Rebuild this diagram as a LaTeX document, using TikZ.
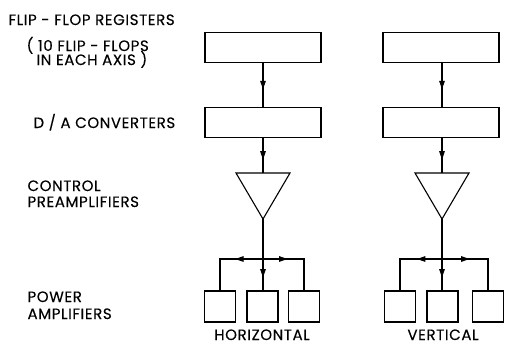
\documentclass[tikz,border=0pt]{standalone}
\usepackage{fontspec}
\setmainfont[LetterSpace=4,FakeBold=0.2]{Poppins}
\usetikzlibrary{arrows.meta,calc}
\begin{document}
\begin{tikzpicture}[x=1pt,y=-1pt,
  line width=1.1pt,
  blk/.style={draw, minimum width=116pt, minimum height=30pt, inner sep=0pt},
  pa/.style={draw, minimum width=31pt, minimum height=31pt, inner sep=0pt},
  lbl/.style={anchor=base west, inner sep=0pt, font=\fontsize{15}{17}\selectfont},
  coltitle/.style={anchor=base, inner sep=0pt, font=\fontsize{15}{17}\selectfont},
  headarrow/.style={-{Triangle[length=8.5pt,width=5.5pt]}},
]
\useasboundingbox (0,0) rectangle (505,348);

% left labels
\node[lbl] (l1) at (8,25) {FLIP - FLOP REGISTERS};
\node[lbl] (l2) at (26,51) {( 10 FLIP - FLOPS};
\node[lbl] (l3) at (36,65) {IN EACH AXIS )};
\node[lbl] (l4) at (33,128) {D / A CONVERTERS};
\node[lbl] (l5) at (27,191) {CONTROL};
\node[lbl] (l6) at (27,207) {PREAMPLIFIERS};
\node[lbl] (l7) at (27,302) {POWER};
\node[lbl] (l8) at (27,319) {AMPLIFIERS};

% blocks
\node[blk] (regH) at (263,47.5) {};
\node[blk] (regV) at (441,47.5) {};
\node[blk] (daH) at (263,122.5) {};
\node[blk] (daV) at (441,122.5) {};

% triangles
\coordinate (tHl) at (236,173);
\coordinate (tHr) at (290,173);
\coordinate (tHt) at (263,173);
\coordinate (tHa) at (263,219);
\coordinate (tVl) at (415,173);
\coordinate (tVr) at (469,173);
\coordinate (tVt) at (442,173);
\coordinate (tVa) at (442,219);
\draw[line join=miter] (tHl) -- (tHr) -- (tHa) -- cycle;
\draw[line join=miter] (tVl) -- (tVr) -- (tVa) -- cycle;

% power amplifiers
\node[pa] (pH1) at (220,306.5) {};
\node[pa] (pH2) at (262.5,306.5) {};
\node[pa] (pH3) at (304,306.5) {};
\node[pa] (pV1) at (400,306.5) {};
\node[pa] (pV2) at (442.5,306.5) {};
\node[pa] (pV3) at (488,306.5) {};

% column captions
\node[coltitle] (cH) at (262,340) {HORIZONTAL};
\node[coltitle] (cV) at (443,340) {VERTICAL};

% connectors (line + arrowhead part-way along)
\draw (regH.south) -- (daH.north);
\draw[headarrow] (regH.south) -- ($(regH.south)!0.6!(daH.north)$);
\draw (daH.south) -- (tHt);
\draw[headarrow] (daH.south) -- ($(daH.south)!0.62!(tHt)$);
\draw (regV.south -| tVt) -- (daV.north -| tVt);
\draw[headarrow] (regV.south -| tVt) -- ($(regV.south -| tVt)!0.6!(daV.north -| tVt)$);
\draw (daV.south -| tVt) -- (tVt);
\draw[headarrow] (daV.south -| tVt) -- ($(daV.south -| tVt)!0.62!(tVt)$);

\coordinate (jH) at (263,259);
\coordinate (jV) at (442,259);
\draw (tHa) -- (pH2.north -| tHa);
\draw[headarrow] (tHa) -- ($(tHa)!0.82!(pH2.north -| tHa)$);
\draw (jH) -| (pH1.north);
\draw[headarrow] (jH) -- ($(jH)!0.65!(jH -| pH1.north)$);
\draw (jH) -| (pH3.north);
\draw[headarrow] (jH) -- ($(jH)!0.6!(jH -| pH3.north)$);

\draw (tVa) -- (pV2.north -| tVa);
\draw[headarrow] (tVa) -- ($(tVa)!0.82!(pV2.north -| tVa)$);
\draw (jV) -| (pV1.north);
\draw[headarrow] (jV) -- ($(jV)!0.6!(jV -| pV1.north)$);
\draw (jV) -| (pV3.north);
\draw[headarrow] (jV) -- ($(jV)!0.6!(jV -| pV3.north)$);
\end{tikzpicture}
\end{document}
